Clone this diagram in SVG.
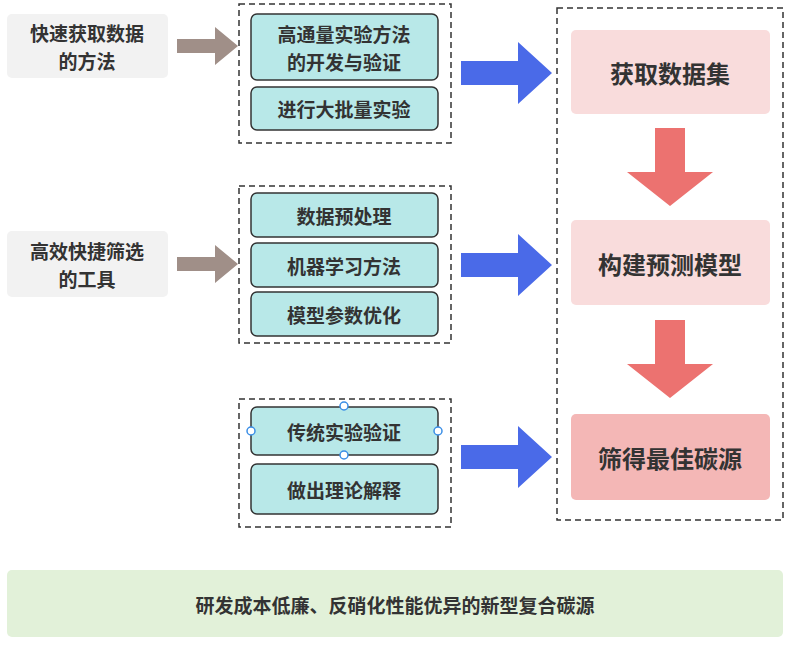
<svg xmlns="http://www.w3.org/2000/svg" width="799" height="652" viewBox="0 0 799 652">
<style>
text{font-family:"Noto Sans CJK SC","Noto Sans",sans-serif;font-weight:bold;fill:#333;text-anchor:middle;dominant-baseline:central}
.lab{fill:#f2f2f2}
.dash{fill:none;stroke:#333;stroke-width:1.5;stroke-dasharray:6,4}
.item{fill:#b8e8e8;stroke:#333;stroke-width:1.5}
.t{font-size:19px}
.r{font-size:24px}
.brown{fill:#a08f88}
.blue{fill:#4a6ae8}
.red{fill:#ec7270}
.h{fill:#fff;stroke:#3a8ee6;stroke-width:1.5}
</style>
<g id="left1"><rect class="lab" x="7" y="14" width="161" height="64" rx="5"/><text class="t" x="87" y="32">快速获取数据</text><text class="t" x="87" y="60">的方法</text></g>
<g id="left2"><rect class="lab" x="7" y="231" width="161" height="66" rx="5"/><text class="t" x="87" y="250">高效快捷筛选</text><text class="t" x="87" y="278">的工具</text></g>
<g id="group1"><rect class="dash" x="239" y="4" width="212" height="139"/>
<rect class="item" x="251" y="14" width="187" height="66" rx="6"/><text class="t" x="344" y="33">高通量实验方法</text><text class="t" x="344" y="61">的开发与验证</text>
<rect class="item" x="251" y="87" width="187" height="43" rx="6"/><text class="t" x="344" y="108">进行大批量实验</text></g>
<g id="group2"><rect class="dash" x="239" y="186" width="212" height="157"/>
<rect class="item" x="251" y="193" width="187" height="44" rx="6"/><text class="t" x="344" y="215">数据预处理</text>
<rect class="item" x="251" y="243" width="187" height="44" rx="6"/><text class="t" x="344" y="265">机器学习方法</text>
<rect class="item" x="251" y="292" width="187" height="44" rx="6"/><text class="t" x="344" y="314">模型参数优化</text></g>
<g id="group3"><rect class="dash" x="239" y="399" width="212" height="128"/>
<rect class="item" x="251" y="407" width="187" height="48" rx="6"/><text class="t" x="344" y="431">传统实验验证</text>
<rect class="item" x="251" y="464" width="187" height="50" rx="6"/><text class="t" x="344" y="489">做出理论解释</text>
<circle class="h" cx="344" cy="406" r="4"/><circle class="h" cx="344" cy="455" r="4"/><circle class="h" cx="251" cy="431" r="4"/><circle class="h" cx="438" cy="431" r="4"/></g>
<g id="results"><rect class="dash" x="557" y="8" width="226" height="512"/>
<rect x="571" y="30" width="199" height="84" rx="5" fill="#f9dcdc"/><text class="r" x="670" y="72">获取数据集</text>
<rect x="571" y="220" width="199" height="85" rx="5" fill="#f9dcdc"/><text class="r" x="670" y="263">构建预测模型</text>
<rect x="571" y="414" width="199" height="86" rx="5" fill="#f4b7b6"/><text class="r" x="670" y="457">筛得最佳碳源</text></g>
<g id="bottom"><rect x="7" y="570" width="776" height="67" rx="5" fill="#e2f1d9"/><text x="395" y="604" font-size="19">研发成本低廉、反硝化性能优异的新型复合碳源</text></g>
<g id="connectors">
<polygon class="brown" points="177,39 215,39 215,27 238,46 215,65 215,53 177,53"/>
<polygon class="brown" points="177,257 215,257 215,245 238,264 215,283 215,271 177,271"/>
<polygon class="blue" points="461,61 518,61 518,42 552,73 518,104 518,85 461,85"/>
<polygon class="blue" points="461,253 518,253 518,234 552,265 518,296 518,277 461,277"/>
<polygon class="blue" points="461,445 518,445 518,426 552,457 518,488 518,469 461,469"/>
<polygon class="red" points="655,128 685,128 685,172 713,172 670,206 627,172 655,172"/>
<polygon class="red" points="655,320 685,320 685,364 713,364 670,398 627,364 655,364"/>
</g>
</svg>
